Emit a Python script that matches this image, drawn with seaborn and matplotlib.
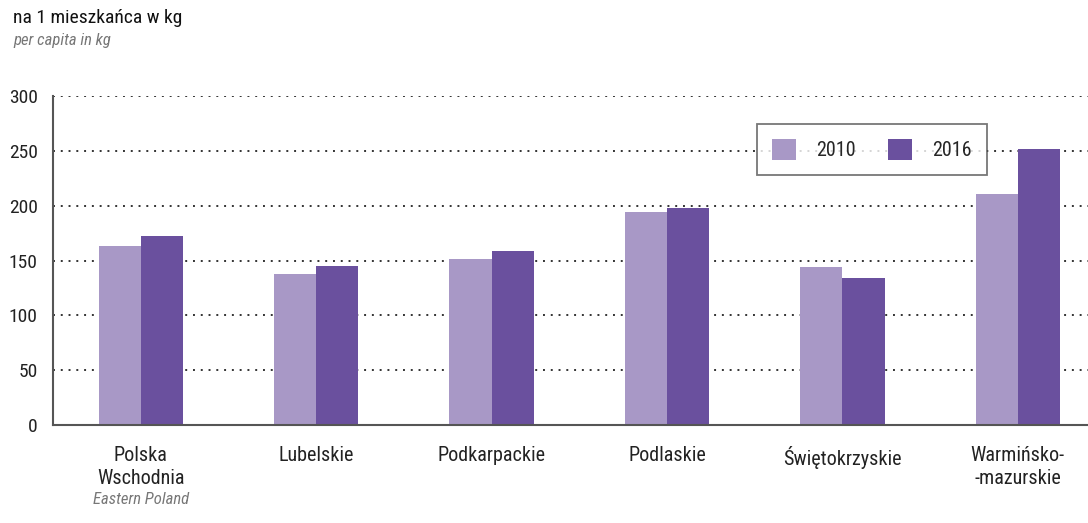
import numpy as np
import pandas as pd
import matplotlib
matplotlib.use('Agg')
import matplotlib.pyplot as plt
from matplotlib import font_manager
import seaborn as sns

regions = ['Polska\nWschodnia', 'Lubelskie', 'Podkarpackie', 'Podlaskie',
           'Świętokrzyskie', 'Warmińsko-\n-mazurskie']
years = ['2010', '2016']
values2010 = [163, 138, 151, 194, 144, 211]
values2016 = [172, 145, 159, 198, 134, 252]
yTicks = [0, 50, 100, 150, 200, 250, 300]

colors = ['#A898C6', '#6A509E']

# pick a condensed face if one is installed
available = {f.name for f in font_manager.fontManager.ttflist}
candidates = ['Liberation Sans Narrow', 'DejaVu Sans Condensed', 'Roboto Condensed',
              'Open Sans Condensed', 'Noto Sans Condensed', 'Roboto']
family = [c for c in candidates if c in available][:1] + ['DejaVu Sans']

sns.set_theme(style='white')
plt.rcParams['font.family'] = family
plt.rcParams['font.stretch'] = 'condensed'

plotDf = pd.concat([
    pd.DataFrame({'Region': regions, 'Value': values2010, 'Year': years[0]}),
    pd.DataFrame({'Region': regions, 'Value': values2016, 'Year': years[1]}),
], ignore_index=True)

fig = plt.figure(figsize=(10.88, 5.23), dpi=100)
ax = fig.add_axes([53 / 1088, 98 / 523, 1035 / 1088, 329 / 523])

sns.barplot(ax=ax, data=plotDf, x='Region', y='Value', hue='Year',
            palette=colors, width=0.48, gap=0, saturation=1, linewidth=0)

ax.set_xlim(-0.5, 5.4)
ax.set_ylim(0, 300)
ax.set_yticks(yTicks)
ax.set_yticklabels([str(t) for t in yTicks], fontsize=14, color='#222222')
ax.set_xlabel('')
ax.set_ylabel('')

# category labels without ticks, boundary ticks as minor
ax.set_xticks(range(len(regions)))
ax.set_xticklabels(regions, fontsize=14.5, color='#222222', linespacing=1.3)
ax.tick_params(axis='x', which='major', length=0, pad=15)
ax.set_xticks(np.arange(-0.5, 5.0, 1.0), minor=True)
ax.tick_params(axis='x', which='minor', length=8, width=1.2, color='#444444', direction='out')
ax.tick_params(axis='y', length=8, width=1.2, color='#444444', direction='out', pad=3)

ax.grid(axis='y', color='#333333', linestyle=(0, (1, 3)), linewidth=1.4)
ax.set_axisbelow(True)

for s in ['top', 'right']:
    ax.spines[s].set_visible(False)
for s in ['left', 'bottom']:
    ax.spines[s].set_color('#555555')
    ax.spines[s].set_linewidth(1.5)

ax.text(0, -74 / 329, 'Eastern Poland', transform=ax.get_xaxis_transform(),
        ha='center', va='center', fontsize=12, style='italic', color='#777777')

leg = ax.legend(loc='upper left', bbox_to_anchor=(0.680, 0.915), ncol=2,
                frameon=True, fancybox=False, fontsize=14.5, handlelength=1.2,
                handleheight=1.2, columnspacing=1.6, handletextpad=1.0,
                borderpad=0.75, borderaxespad=0)
leg.get_frame().set_edgecolor('#555555')
leg.get_frame().set_linewidth(1.3)

fig.text(13 / 1088, 1 - 18 / 523, 'na 1 mieszkańca w kg', ha='left', va='center',
         fontsize=14, color='#111111')
fig.text(13 / 1088, 1 - 41 / 523, 'per capita in kg', ha='left', va='center',
         fontsize=12, style='italic', color='#777777')

fig.savefig('out.png', dpi=100)
